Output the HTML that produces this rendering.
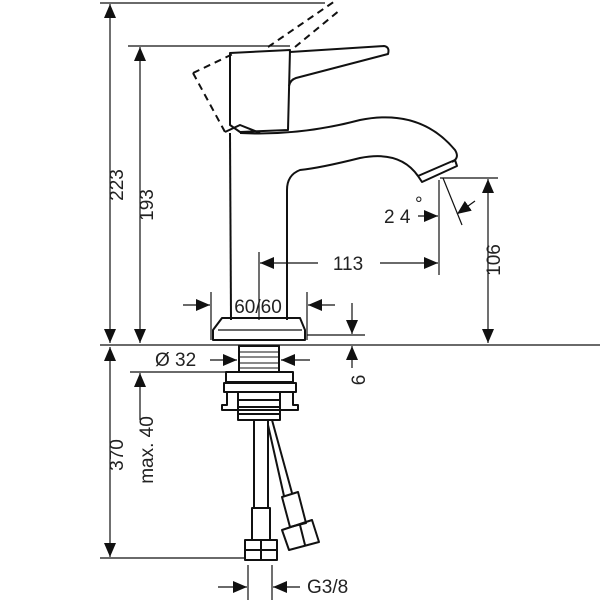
<!DOCTYPE html>
<html><head><style>body{margin:0;background:#fff}svg{display:block}text{font-family:"Liberation Sans",sans-serif;font-size:19px;fill:#222}</style></head>
<body>
<svg width="600" height="600" viewBox="0 0 600 600" xmlns="http://www.w3.org/2000/svg">
<defs>
<marker id="a" viewBox="0 0 14 12" refX="14" refY="6" markerWidth="14" markerHeight="12" orient="auto-start-reverse" markerUnits="userSpaceOnUse"><path d="M0,0L14,6L0,12z" fill="#111"/></marker>
</defs>
<g stroke="#111" stroke-width="1.2" fill="none">
<line x1="100" y1="3" x2="325" y2="3"/>
<line x1="128" y1="46" x2="290" y2="46"/>
<line x1="100" y1="345" x2="600" y2="345"/>
<line x1="440" y1="178" x2="498" y2="178"/>
<line x1="439" y1="180" x2="439" y2="275"/>
<line x1="259" y1="252" x2="259" y2="320"/>
<line x1="211" y1="292" x2="211" y2="340"/>
<line x1="307" y1="292" x2="307" y2="340"/>
<line x1="130" y1="372" x2="230" y2="372"/>
<line x1="100" y1="558" x2="245" y2="558"/>
<line x1="248" y1="565" x2="248" y2="600"/>
<line x1="272" y1="565" x2="272" y2="600"/>
<line x1="307" y1="335" x2="365" y2="335"/>
<line x1="110" y1="4" x2="110" y2="343" marker-start="url(#a)" marker-end="url(#a)"/>
<line x1="140" y1="47" x2="140" y2="343" marker-start="url(#a)" marker-end="url(#a)"/>
<line x1="488" y1="179" x2="488" y2="343" marker-start="url(#a)" marker-end="url(#a)"/>
<line x1="110" y1="347" x2="110" y2="557" marker-start="url(#a)" marker-end="url(#a)"/>
<line x1="140" y1="373" x2="140" y2="420" marker-start="url(#a)"/>
<line x1="260" y1="263" x2="318" y2="263" marker-start="url(#a)"/>
<line x1="380" y1="263" x2="438" y2="263" marker-end="url(#a)"/>
<line x1="183" y1="305" x2="210" y2="305" marker-end="url(#a)"/>
<line x1="335" y1="305" x2="308" y2="305" marker-end="url(#a)"/>
<line x1="352" y1="303" x2="352" y2="334" marker-end="url(#a)"/>
<line x1="352" y1="368" x2="352" y2="346" marker-end="url(#a)"/>
<line x1="210" y1="360" x2="237" y2="360" marker-end="url(#a)"/>
<line x1="310" y1="360" x2="281" y2="360" marker-end="url(#a)"/>
<line x1="418" y1="216" x2="438" y2="216" marker-end="url(#a)"/>
<line x1="475" y1="201" x2="457" y2="214" marker-end="url(#a)"/>
<line x1="443" y1="178" x2="462" y2="225"/>
<line x1="218" y1="587" x2="247" y2="587" marker-end="url(#a)"/>
<line x1="300" y1="587" x2="273" y2="587" marker-end="url(#a)"/>
</g>
<g stroke="#111" stroke-width="2" fill="none" stroke-linejoin="round">
<path d="M268,47L335,1M295,47L340,10M193,73L235,53M193,73L225,132" stroke-dasharray="7,5"/>
<path d="M230,53L290,50L288,130L240,132L230,125Z"/>
<path d="M290,52L384,46Q390,47 388,54L296,78Q290,80 289,86"/>
<path d="M225,132L240,125L260,133"/>
<path d="M230,133L231,320"/>
<path d="M240,133Q300,136 360,120Q420,108 455,150Q460,158 452,162"/>
<path d="M418,176Q400,150 360,158Q320,168 300,170Q287,175 287,190L287,320"/>
<path d="M418,176L455,160L457,166L422,182Z"/>
<path d="M222,318L300,318L305,330L305,340L213,340L213,330Z"/>
<line x1="218" y1="330" x2="302" y2="330" stroke-width="1.2"/>
<path d="M239,346L279,346L279,372L239,372Z"/>
<path d="M239,352H279M239,357H279M239,363H279M239,368H279" stroke-width="1"/>
<path d="M226,372L293,372L293,382L226,382Z"/>
<path d="M224,383L296,383L296,392L224,392Z"/>
<path d="M227,392L227,405L222,405L222,410L298,410L298,405L293,405L293,392"/>
<path d="M238,392L238,420L280,420L280,392M238,400H280M238,407H280M238,414H280"/>
<path d="M254,420L254,508M268,420L268,508"/>
<path d="M272,420L292,493M268,425L284,496"/>
<path d="M252,508L270,508L270,540L252,540Z"/>
<path d="M245,540L277,540L277,560L245,560Z M261,540L261,560M245,550H277"/>
<path d="M282,497L298,492L306,523L290,527Z"/>
<path d="M282,530L312,520L319,542L289,550Z M300,525L305,545"/>
</g>
<text x="258" y="313" text-anchor="middle">60/60</text>
<text x="348" y="270" text-anchor="middle">113</text>
<text x="384" y="223" font-size="20">2 4</text>
<text x="415" y="210" font-size="13">°</text>
<text x="155" y="366">Ø 32</text>
<text x="307" y="593">G3/8</text>
<text transform="translate(123,185) rotate(-90)" text-anchor="middle">223</text>
<text transform="translate(153,205) rotate(-90)" text-anchor="middle">193</text>
<text transform="translate(500,260) rotate(-90)" text-anchor="middle">106</text>
<text transform="translate(123,455) rotate(-90)" text-anchor="middle">370</text>
<text transform="translate(153,450) rotate(-90)" text-anchor="middle">max. 40</text>
<text transform="translate(365,380) rotate(-90)" text-anchor="middle">6</text>
</svg>
</body></html>
